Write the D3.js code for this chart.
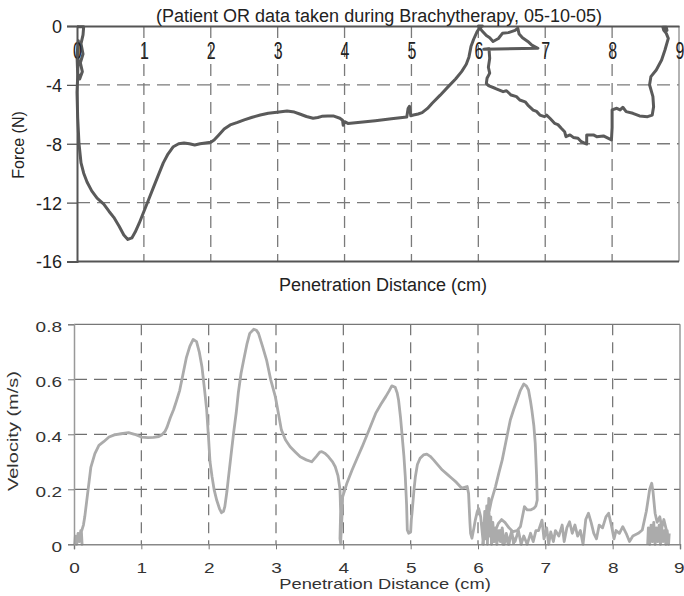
<!DOCTYPE html>
<html>
<head>
<meta charset="utf-8">
<script src="https://cdn.jsdelivr.net/npm/d3@7"></script>
<style>
  html, body { margin: 0; padding: 0; background: #fff; }
  svg { display: block; }
  text { font-family: "Liberation Sans", Arial, sans-serif; }
</style>
</head>
<body>
<svg id="chart" width="684" height="596"></svg>
<script>
// ---------------- DATA ----------------
const chartTitle = "(Patient OR data taken during Brachytherapy, 05-10-05)";
const xTitle = "Penetration Distance (cm)";
const forceTitle = "Force (N)";
const velocityTitle = "Velocity (m/s)";

const distanceTicks = [0, 1, 2, 3, 4, 5, 6, 7, 8, 9];
const forceTicks = [0, -4, -8, -12, -16];
const forceTickLabels = ["0", "-4", "-8", "-12", "-16"];
const velocityTicks = [0, 0.2, 0.4, 0.6, 0.8];
const velocityTickLabels = ["0", "0.2", "0.4", "0.6", "0.8"];

// Force (N) vs penetration distance (cm)
const forcePoints = [
  [0.00,-0.05],[0.10,-0.05],[0.09,-0.6],[0.06,-1.2],[0.09,-1.9],[0.05,-2.5],[0.08,-3.1],[0.04,-3.6],
  [0.01,-3.2],[0.00,-2.0],[0.02,-1.0],[0.01,-3.5],[0.00,-4.5],[0.01,-6.2],[0.03,-8.0],[0.06,-9.3],
  [0.10,-10.0],[0.15,-10.6],[0.22,-11.2],[0.30,-11.7],[0.40,-12.1],[0.48,-12.6],[0.55,-13.0],[0.63,-13.6],
  [0.70,-14.2],[0.76,-14.5],[0.82,-14.4],[0.87,-14.0],[0.93,-13.4],[1.00,-12.6],[1.07,-11.8],[1.14,-11.0],
  [1.21,-10.2],[1.29,-9.3],[1.36,-8.7],[1.44,-8.2],[1.52,-8.0],[1.60,-7.95],[1.68,-8.0],[1.76,-8.08],
  [1.84,-8.0],[1.92,-7.95],[2.00,-7.9],[2.05,-7.75],[2.12,-7.4],[2.20,-7.0],[2.29,-6.72],[2.40,-6.55],
  [2.50,-6.38],[2.62,-6.2],[2.74,-6.05],[2.86,-5.93],[2.99,-5.86],[3.14,-5.78],[3.25,-5.85],[3.33,-5.98],
  [3.43,-6.15],[3.53,-6.27],[3.60,-6.22],[3.66,-6.14],[3.75,-6.12],[3.83,-6.11],[3.93,-6.27],[3.97,-6.4],
  [3.98,-6.75],[4.00,-6.5],[4.05,-6.62],[4.20,-6.55],[4.46,-6.43],[4.70,-6.3],[4.93,-6.18],[4.95,-5.6],
  [4.97,-5.45],[4.99,-6.1],[5.03,-6.05],[5.10,-5.98],[5.16,-5.89],[5.24,-5.6],[5.31,-5.25],[5.43,-4.7],
  [5.55,-4.12],[5.66,-3.6],[5.75,-3.1],[5.82,-2.6],[5.86,-2.1],[5.89,-1.4],[5.93,-0.9],[5.98,-0.4],
  [6.03,-0.05],[6.06,0.0],[6.00,0.0],[6.05,-0.3],[6.12,-0.65],[6.17,-0.8],[6.22,-1.05],[6.30,-0.85],
  [6.36,-0.5],[6.45,-0.45],[6.55,-0.3],[6.59,-0.15],[6.61,-0.55],[6.66,-0.8],[6.74,-1.05],[6.80,-1.3],
  [6.89,-1.52],[6.08,-1.58],[6.16,-1.55],[6.17,-2.2],[6.15,-2.8],[6.17,-3.2],[6.13,-3.55],[6.12,-3.9],
  [6.15,-4.05],[6.25,-4.23],[6.37,-4.46],[6.42,-4.4],[6.49,-4.69],[6.57,-4.8],[6.62,-5.03],[6.70,-5.15],
  [6.74,-5.37],[6.82,-5.71],[6.87,-5.8],[6.92,-6.05],[6.99,-6.16],[7.02,-6.05],[7.07,-6.27],[7.14,-6.61],
  [7.19,-6.7],[7.24,-6.95],[7.29,-7.18],[7.31,-7.52],[7.37,-7.4],[7.42,-7.57],[7.49,-7.63],[7.54,-7.86],
  [7.62,-8.02],[7.62,-7.4],[7.72,-7.4],[7.77,-7.52],[7.87,-7.47],[7.99,-7.74],[8.00,-6.9],[8.00,-5.7],
  [8.07,-5.59],[8.12,-5.7],[8.16,-5.52],[8.21,-5.82],[8.31,-5.93],[8.41,-6.11],[8.53,-6.16],[8.60,-6.05],
  [8.62,-5.48],[8.61,-4.8],[8.56,-4.0],[8.58,-3.44],[8.66,-2.99],[8.74,-2.31],[8.79,-1.63],[8.84,-0.84],
  [8.81,-0.5],[8.77,-0.27],[8.76,-0.09],[8.81,-0.09],[8.82,-0.3],[8.76,-0.25]
];

// Velocity (m/s) vs penetration distance (cm); null breaks the trace
const velocityPoints = [
  [0.01,0.0],[0.02,0.03],[0.04,0.0],[0.06,0.04],[0.08,0.01],[0.10,0.05],[0.12,0.0],[0.11,0.046],
  [0.14,0.07],[0.16,0.1],[0.19,0.16],[0.21,0.2],[0.25,0.28],[0.31,0.33],[0.37,0.36],[0.44,0.373],
  [0.52,0.39],[0.60,0.398],[0.70,0.402],[0.81,0.406],[0.90,0.4],[1.00,0.39],[1.10,0.388],[1.18,0.389],
  [1.26,0.392],[1.30,0.397],[1.35,0.41],[1.38,0.425],[1.43,0.46],[1.48,0.49],[1.52,0.52],[1.57,0.56],
  [1.62,0.62],[1.67,0.68],[1.72,0.72],[1.77,0.745],[1.82,0.737],[1.86,0.7],[1.90,0.646],[1.94,0.56],
  [1.97,0.49],[2.00,0.38],[2.02,0.3],[2.05,0.246],[2.08,0.2],[2.12,0.16],[2.16,0.13],[2.19,0.115],
  [2.22,0.12],[2.24,0.137],[2.27,0.19],[2.29,0.234],[2.33,0.32],[2.37,0.404],[2.41,0.48],[2.44,0.55],
  [2.48,0.62],[2.52,0.67],[2.57,0.73],[2.61,0.767],[2.67,0.782],[2.71,0.778],[2.74,0.767],[2.80,0.72],
  [2.86,0.67],[2.92,0.6],[2.99,0.537],[3.04,0.47],[3.08,0.416],[3.14,0.38],[3.21,0.355],[3.29,0.335],
  [3.36,0.318],[3.45,0.307],[3.53,0.3],[3.60,0.32],[3.65,0.335],[3.68,0.337],[3.73,0.33],[3.78,0.318],
  [3.84,0.3],[3.88,0.282],[3.92,0.25],[3.95,0.2],[3.96,0.12],[3.95,0.02],[3.96,0.005],[3.98,0.1],
  [3.99,0.173],[4.05,0.22],[4.13,0.27],[4.20,0.31],[4.28,0.355],[4.38,0.415],[4.48,0.476],[4.56,0.51],
  [4.63,0.537],[4.68,0.558],[4.72,0.576],[4.77,0.571],[4.80,0.55],[4.82,0.525],[4.85,0.46],[4.87,0.404],
  [4.90,0.32],[4.92,0.246],[4.94,0.14],[4.95,0.052],[4.97,0.04],[5.00,0.045],[5.01,0.09],[5.02,0.113],
  [5.05,0.2],[5.07,0.246],[5.10,0.29],[5.14,0.313],[5.19,0.325],[5.24,0.328],[5.29,0.32],[5.34,0.307],
  [5.40,0.29],[5.47,0.27],[5.54,0.255],[5.61,0.24],[5.68,0.225],[5.76,0.204],[5.84,0.21],[5.86,0.185],
  [5.88,0.08],[5.89,0.04],[5.91,0.022],[5.94,0.06],[5.96,0.088],[5.99,0.12],[6.01,0.13],[6.04,0.1],
  [6.06,0.05],[6.08,0.0],[6.10,0.12],[6.11,0.02],[6.13,0.14],[6.14,0.0],[6.16,0.167],[6.17,0.03],
  [6.19,0.1],[6.20,0.0],[6.22,0.08],[6.24,0.01],[6.26,0.06],[6.28,0.0],[6.30,0.05],[6.33,0.01],
  [6.36,0.06],[6.39,0.0],[6.42,0.04],[6.46,0.0],[6.50,0.05],[6.53,0.0],
  null,
  [6.07,0.0],[6.09,0.08],[6.11,0.04],[6.12,0.1],[6.14,0.06],[6.16,0.113],[6.20,0.16],[6.26,0.21],
  [6.31,0.26],[6.36,0.307],[6.42,0.38],[6.48,0.452],[6.53,0.49],[6.58,0.525],[6.63,0.56],[6.68,0.583],
  [6.72,0.575],[6.75,0.561],[6.78,0.52],[6.80,0.488],[6.83,0.43],[6.85,0.367],[6.87,0.25],[6.88,0.161],
  [6.86,0.14],[6.83,0.131],[6.78,0.125],[6.73,0.125],[6.69,0.137],[6.66,0.1],[6.63,0.064],[6.58,0.05],
  [6.52,0.046],[6.46,0.06],[6.40,0.08],[6.35,0.09],[6.30,0.075],[6.26,0.05],[6.22,0.03],[6.19,0.02],
  null,
  [6.20,0.0],[6.24,0.04],[6.28,0.01],[6.33,0.05],[6.37,0.0],[6.41,0.03],[6.45,0.0],[6.49,0.04],
  [6.55,0.01],[6.60,0.05],[6.64,0.0],[6.68,0.03],[6.73,0.0],[6.78,0.04],[6.82,0.01],[6.86,0.05],
  [6.90,0.05],[6.95,0.088],[6.98,0.02],[7.02,0.06],[7.05,0.0],[7.08,0.045],[7.12,0.01],[7.15,0.05],
  [7.20,0.03],[7.25,0.07],[7.28,0.01],[7.32,0.06],[7.36,0.082],[7.40,0.04],[7.44,0.07],[7.48,0.03],
  [7.52,0.05],[7.56,0.0],[7.60,0.09],[7.64,0.113],[7.68,0.08],[7.72,0.04],[7.76,0.02],[7.80,0.07],
  [7.85,0.06],[7.90,0.1],[7.94,0.113],[7.98,0.07],[8.02,0.02],[8.05,0.05],[8.10,0.04],[8.15,0.064],
  [8.20,0.04],[8.25,0.01],[8.30,0.03],[8.38,0.04],[8.44,0.052],[8.50,0.12],[8.55,0.2],[8.58,0.222],
  [8.60,0.19],[8.63,0.113],[8.66,0.08],[8.70,0.1],[8.73,0.06],[8.76,0.09],[8.80,0.05],[8.83,0.02],
  null,
  [8.52,0.0],[8.53,0.06],[8.55,0.0],[8.57,0.07],[8.59,0.01],[8.61,0.08],[8.63,0.0],[8.65,0.06],
  [8.67,0.01],[8.69,0.07],[8.71,0.0],[8.73,0.06],[8.75,0.01],[8.77,0.05],[8.79,0.0],[8.81,0.05],[8.83,0.0],[8.84,0.04]
];

// ---------------- DRAW ----------------
const svg = d3.select("#chart");
const darkText = "#222";

// ===== Top chart: Force =====
const xTop = d3.scaleLinear().domain([0, 9]).range([77, 679]);
const yTop = d3.scaleLinear().domain([-16, 0]).range([261.5, 26]);

const gTop = svg.append("g");

// grid
gTop.append("g").selectAll("line").data(distanceTicks.filter(d => d > 0 && d < 9)).join("line")
  .attr("x1", d => xTop(d)).attr("x2", d => xTop(d))
  .attr("y1", yTop(0)).attr("y2", yTop(-16))
  .attr("stroke", "#7a7a7a").attr("stroke-width", 1.3).attr("stroke-dasharray", "12,7");
gTop.append("g").selectAll("line").data(forceTicks.filter(d => d < 0 && d > -16)).join("line")
  .attr("x1", xTop(0)).attr("x2", xTop(9))
  .attr("y1", d => yTop(d)).attr("y2", d => yTop(d))
  .attr("stroke", "#7a7a7a").attr("stroke-width", 1.3).attr("stroke-dasharray", "13,7");

// right border
gTop.append("line").attr("x1", xTop(9)).attr("x2", xTop(9)).attr("y1", yTop(0)).attr("y2", yTop(-16))
  .attr("stroke", "#8a8a8a").attr("stroke-width", 1.3);
// bottom border
gTop.append("line").attr("x1", xTop(0)).attr("x2", xTop(9)).attr("y1", yTop(-16)).attr("y2", yTop(-16))
  .attr("stroke", "#555").attr("stroke-width", 2);

// data line
const lineTop = d3.line().x(d => xTop(d[0])).y(d => yTop(d[1]));
gTop.append("path").datum(forcePoints)
  .attr("d", lineTop).attr("fill", "none")
  .attr("stroke", "#5a5a5a").attr("stroke-width", 3).attr("stroke-linejoin", "round");

// top axis (x at F=0) with labels inside the plot
const axTopX = gTop.append("g").attr("transform", `translate(0,${yTop(0)})`)
  .call(d3.axisBottom(xTop).tickValues(distanceTicks).tickFormat(d => String(d)).tickSize(0));
axTopX.select(".domain").attr("stroke", "#555").attr("stroke-width", 2);
axTopX.selectAll("text").attr("y", 0).attr("dy", 0)
  .attr("transform", "translate(0,33) scale(1,1.45)")
  .attr("font-size", 16).attr("fill", darkText);
axTopX.selectAll("text").filter(d => d === 9).attr("text-anchor", "end").attr("x", 5);

// left axis
const axTopY = gTop.append("g").attr("transform", `translate(${xTop(0)},0)`)
  .call(d3.axisLeft(yTop).tickValues(forceTicks).tickFormat((d, i) => forceTickLabels[i]).tickSize(10).tickPadding(5));
axTopY.select(".domain").attr("stroke", "#555").attr("stroke-width", 2);
axTopY.selectAll(".tick line").attr("stroke", "#555").attr("stroke-width", 1.3);
axTopY.selectAll("text").attr("font-size", 18).attr("fill", darkText).attr("dy", "0.36em");

// titles
svg.append("text").attr("x", 379).attr("y", 22).attr("text-anchor", "middle")
  .attr("font-size", 18).attr("fill", darkText).text(chartTitle);
svg.append("text").attr("x", 383).attr("y", 291).attr("text-anchor", "middle")
  .attr("font-size", 18).attr("fill", darkText).text(xTitle);
svg.append("text").attr("transform", "translate(24,145) rotate(-90)").attr("text-anchor", "middle")
  .attr("font-size", 16).attr("fill", darkText).text(forceTitle);

// ===== Bottom chart: Velocity =====
const xBot = d3.scaleLinear().domain([0, 9]).range([74, 680]);
const yBot = d3.scaleLinear().domain([0, 0.8]).range([544.3, 324.3]);
const gBot = svg.append("g");

gBot.append("g").selectAll("line").data(distanceTicks.filter(d => d > 0 && d < 9)).join("line")
  .attr("x1", d => xBot(d)).attr("x2", d => xBot(d))
  .attr("y1", yBot(0.8)).attr("y2", yBot(0))
  .attr("stroke", "#6f6f6f").attr("stroke-width", 1.2).attr("stroke-dasharray", "11,7");
gBot.append("g").selectAll("line").data(velocityTicks.filter(d => d > 0 && d < 0.8)).join("line")
  .attr("x1", xBot(0)).attr("x2", xBot(9))
  .attr("y1", d => yBot(d)).attr("y2", d => yBot(d))
  .attr("stroke", "#6f6f6f").attr("stroke-width", 1.2).attr("stroke-dasharray", "13,7");

// top & right borders
gBot.append("line").attr("x1", xBot(0)).attr("x2", xBot(9)).attr("y1", yBot(0.8)).attr("y2", yBot(0.8))
  .attr("stroke", "#777").attr("stroke-width", 1.3);
gBot.append("line").attr("x1", xBot(9)).attr("x2", xBot(9)).attr("y1", yBot(0.8)).attr("y2", yBot(0))
  .attr("stroke", "#888").attr("stroke-width", 1.3);

const lineBot = d3.line().defined(d => d !== null).x(d => xBot(d[0])).y(d => yBot(d[1]));
gBot.append("path").datum(velocityPoints)
  .attr("d", lineBot).attr("fill", "none")
  .attr("stroke", "#ababab").attr("stroke-width", 2.8).attr("stroke-linejoin", "round");

// bottom axis
const axBotX = gBot.append("g").attr("transform", `translate(0,${yBot(0)})`)
  .call(d3.axisBottom(xBot).tickValues(distanceTicks).tickFormat(d => String(d)).tickSize(5));
axBotX.select(".domain").attr("stroke", "#888").attr("stroke-width", 1.5);
axBotX.selectAll(".tick line").attr("stroke", "#777");
axBotX.selectAll("text").attr("y", 0).attr("dy", 0)
  .attr("transform", "translate(0,28.5) scale(1,0.76)")
  .attr("font-size", 19).attr("fill", "#333");
axBotX.selectAll("text").filter(d => d === 9).attr("text-anchor", "end").attr("x", 4);

// left axis
const axBotY = gBot.append("g").attr("transform", `translate(${xBot(0)},0)`)
  .call(d3.axisLeft(yBot).tickValues(velocityTicks).tickFormat((d, i) => velocityTickLabels[i]).tickSize(6));
axBotY.select(".domain").attr("stroke", "#999").attr("stroke-width", 1.5);
axBotY.selectAll(".tick line").attr("stroke", "#777");
axBotY.selectAll("text").attr("x", 0).attr("dy", 0)
  .attr("transform", "translate(-12,7.4) scale(1,0.76)")
  .attr("font-size", 19).attr("fill", "#333");

svg.append("text").attr("transform", "translate(385,589) scale(1,0.76)").attr("text-anchor", "middle")
  .attr("font-size", 18.3).attr("fill", "#333").text(xTitle);
svg.append("text").attr("transform", "translate(18,431) rotate(-90) scale(1,0.7)").attr("text-anchor", "middle")
  .attr("font-size", 20).attr("fill", "#333").text(velocityTitle);
</script>
</body>
</html>
